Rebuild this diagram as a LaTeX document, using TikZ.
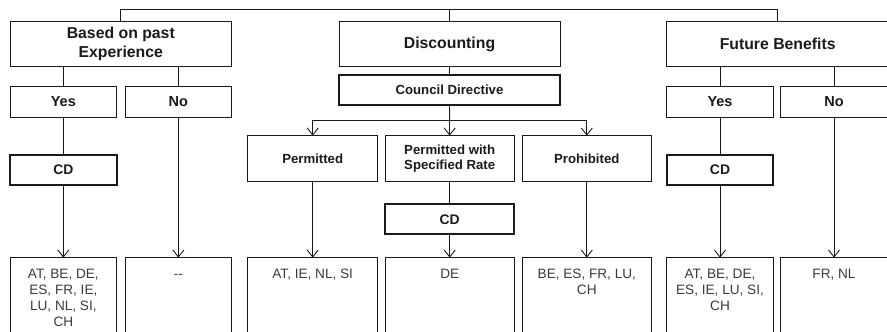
\documentclass[tikz,border=0pt]{standalone}
\usepackage{fontspec}
\setmainfont{Liberation Sans}
\usetikzlibrary{arrows.meta}
\definecolor{ln}{HTML}{1A1A1A}
\definecolor{tx}{HTML}{3A3A3A}
\newcommand{\restext}[1]{\begin{tabular}[t]{@{}c@{}}#1\end{tabular}}
\begin{document}
\begin{tikzpicture}[x=1pt,y=-1pt,
  every node/.style={inner sep=0pt, outer sep=0pt},
  box/.style={draw=ln, line width=0.9pt, align=center, text=ln, font=\bfseries\fontsize{13.2}{15.6}\selectfont},
  hdr/.style={box, minimum height=45pt, font=\bfseries\fontsize{15.8}{18.7}\selectfont},
  yn/.style={box, minimum width=106.7pt, minimum height=30.6pt, font=\bfseries\fontsize{14.5}{17}\selectfont},
  cdbox/.style={box, line width=2pt, minimum height=30pt},
  opt/.style={box, minimum height=46pt},
  res/.style={draw=ln, line width=0.9pt, anchor=north, text=tx,
     font=\fontsize{13.6}{16}\selectfont, text height=20.3pt, text depth=100pt},
  conn/.style={draw=ln, line width=0.9pt},
  arr/.style={conn, -{Straight Barb[length=7pt,width=11pt,line width=0.9pt]}}
]
\useasboundingbox (0,0) rectangle (887,332);
\clip (0,0) rectangle (887,332);

% headers
\node[hdr, minimum width=221.7pt] (based) at (120.8,44.2) {Based on past\\Experience};
\node[hdr, minimum width=221pt] (disc) at (449.5,44.2) {Discounting};
\node[hdr, minimum width=222pt] (fut) at (777.7,44.2) {Future Benefits};

\coordinate (topL) at (120.8,9);
\coordinate (topR) at (777.7,9);
\draw[conn] (based.north) -- (topL) -- (topR) -- (fut.north);
\draw[conn] (disc.north) -- (disc.north |- topL);

% left column
\node[yn] (yesL) at (63.35,102) {Yes};
\node[yn] (noL) at (178.35,102) {No};
\node[cdbox, minimum width=106.7pt, font=\bfseries\fontsize{13.9}{16}\selectfont] (cdL) at (63.35,170) {CD};
\node[res, minimum width=106.7pt] (resL1) at (63.35,257.7) {\restext{AT, BE, DE,\\ES, FR, IE,\\LU, NL, SI,\\CH}};
\node[res, minimum width=106.7pt] (resL2) at (178.35,257.7) {{-}{-}};
\draw[conn] (based.south -| yesL) -- (yesL.north);
\draw[conn] (based.south -| noL) -- (noL.north);
\draw[conn] (yesL.south) -- (cdL.north);
\draw[arr] (cdL.south) -- (resL1.north);
\draw[arr] (noL.south) -- (resL2.north);

% middle column
\node[cdbox, minimum width=221pt] (cdir) at (449.5,90) {Council Directive};
\node[opt, minimum width=130pt] (perm) at (312.7,158.7) {Permitted};
\node[opt, minimum width=129.3pt] (pwsr) at (449.7,158.7) {Permitted with\\Specified Rate};
\node[opt, minimum width=129.5pt] (proh) at (586.8,158.7) {Prohibited};
\node[cdbox, minimum width=129.3pt, font=\bfseries\fontsize{13.9}{16}\selectfont] (cdM) at (449.7,219.3) {CD};
\node[res, minimum width=130pt] (resP) at (312.7,257.7) {AT, IE, NL, SI};
\node[res, minimum width=129.3pt] (resS) at (449.7,257.7) {DE};
\node[res, minimum width=129.5pt] (resH) at (586.8,257.7) {\restext{BE, ES, FR, LU,\\CH}};
\coordinate (br) at (449.7,120);
\draw[conn] (disc.south) -- (cdir.north);
\draw[conn] (cdir.south) -- (br);
\draw[arr] (br) -- (pwsr.north);
\draw[arr] (br) -| (perm.north);
\draw[arr] (br) -| (proh.north);
\draw[conn] (pwsr.south) -- (cdM.north);
\draw[arr] (cdM.south) -- (resS.north);
\draw[arr] (perm.south) -- (resP.north);
\draw[arr] (proh.south) -- (resH.north);

% right column
\node[yn] (yesR) at (720,102) {Yes};
\node[yn] (noR) at (834,102) {No};
\node[cdbox, minimum width=106.7pt, font=\bfseries\fontsize{13.9}{16}\selectfont] (cdR) at (720,170) {CD};
\node[res, minimum width=106.7pt] (resR1) at (720,257.7) {\restext{AT, BE, DE,\\ES, IE, LU, SI,\\CH}};
\node[res, minimum width=106.7pt] (resR2) at (834,257.7) {FR, NL};
\draw[conn] (fut.south -| yesR) -- (yesR.north);
\draw[conn] (fut.south -| noR) -- (noR.north);
\draw[conn] (yesR.south) -- (cdR.north);
\draw[arr] (cdR.south) -- (resR1.north);
\draw[arr] (noR.south) -- (resR2.north);
\end{tikzpicture}
\end{document}
